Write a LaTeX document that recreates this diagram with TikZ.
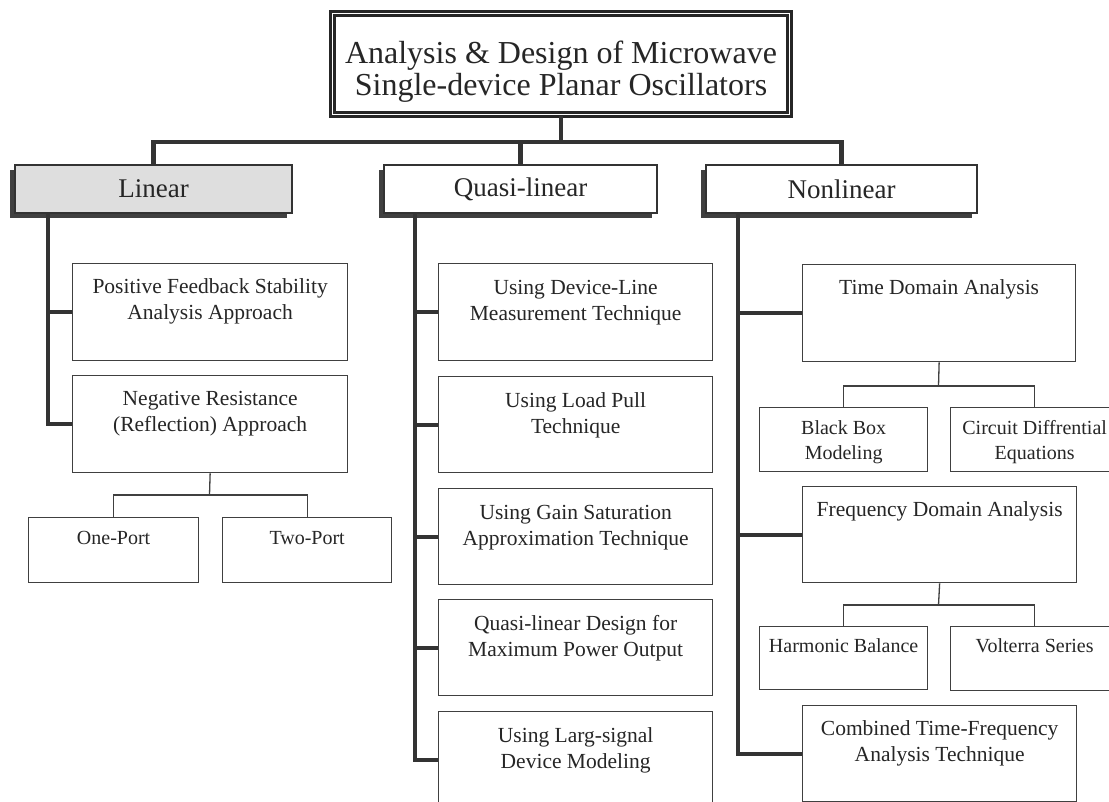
\documentclass[tikz,border=0pt]{standalone}
\usepackage{fontspec}
\setmainfont{Liberation Serif}
\usetikzlibrary{shadows}
\newcommand\bxt[4]{\parbox[c][#1][t]{#2}{\centering\vspace*{#3}\strut #4}}
\tikzset{
  box/.style={draw=black!75, line width=1.3pt, fill=white, inner sep=0pt, text=black!85, anchor=north west},
  midf/.style={font=\fontsize{21.5}{26}\selectfont},
  smallf/.style={font=\fontsize{20}{25}\selectfont},
  catbox/.style={draw=black!80, line width=1.3pt, fill=white, inner sep=0pt, minimum height=48pt,
    text=black!85, font=\fontsize{27}{30}\selectfont,
    drop shadow={shadow xshift=-5pt, shadow yshift=-5pt, fill=black!75, opacity=1}},
  trunk/.style={draw=black!80, line width=4.2pt},
  twig/.style={draw=black!75, line width=1.3pt},
}
\begin{document}
\begin{tikzpicture}[x=1pt, y=-1pt]
\useasboundingbox (0,0) rectangle (1109,802);
\fill[white] (0,0) rectangle (1109,802);

% title
\node[draw=black!85, line width=2.8pt, double=white, double distance=1.2pt, inner sep=0pt,
      text=black!85, font=\fontsize{32}{28.5}\selectfont] (T) at (561,64)
  {\bxt{101pt}{457pt}{27.5pt}{Analysis \& Design of Microwave\\Single-device Planar Oscillators}};

% category boxes
\node[catbox, minimum width=277pt, fill=black!13] (Lin) at (153.5,189) {Linear};
\node[catbox, minimum width=273pt] (Qua) at (520.5,189) {Quasi-linear};
\node[catbox, minimum width=271pt] (Non) at (841.5,189) {Nonlinear};

% linear column
\node[box, midf] (Pos) at (72,263) {\bxt{97pt}{275pt}{12pt}{Positive Feedback Stability\\Analysis Approach}};
\node[box, midf] (Neg) at (72,375) {\bxt{97pt}{275pt}{12pt}{Negative Resistance\\(Reflection) Approach}};
\node[box, smallf] (One) at (28,517) {\bxt{65pt}{170pt}{9.5pt}{One-Port}};
\node[box, smallf] (Two) at (222,517) {\bxt{65pt}{169pt}{9.5pt}{Two-Port}};

% quasi-linear column
\node[box, midf] (Q1) at (438,263) {\bxt{97pt}{274pt}{12.5pt}{Using Device-Line\\Measurement Technique}};
\node[box, midf] (Q2) at (438,376) {\bxt{96pt}{274pt}{12.5pt}{Using Load Pull\\Technique}};
\node[box, midf] (Q3) at (438,488) {\bxt{96pt}{274pt}{12.5pt}{Using Gain Saturation\\Approximation Technique}};
\node[box, midf] (Q4) at (438,599) {\bxt{96pt}{274pt}{12.5pt}{Quasi-linear Design for\\Maximum Power Output}};
\node[box, midf] (Q5) at (438,711) {\bxt{96pt}{274pt}{12.5pt}{Using Larg-signal\\Device Modeling}};

% nonlinear column
\node[box, midf] (Time) at (802,264) {\bxt{97pt}{273pt}{12pt}{Time Domain Analysis}};
\node[box, smallf] (BB) at (759,407) {\bxt{64pt}{168pt}{9.5pt}{Black Box\\Modeling}};
\node[box, smallf] (CDE) at (950,407) {\bxt{64pt}{168pt}{9.5pt}{Circuit Diffrential\\Equations}};
\node[box, midf] (Freq) at (802,486) {\bxt{96pt}{274pt}{12pt}{Frequency Domain Analysis}};
\node[box, smallf] (HB) at (759,626) {\bxt{63pt}{168pt}{8.5pt}{Harmonic Balance}};
\node[box, smallf] (VS) at (950,626) {\bxt{64pt}{168pt}{8.5pt}{Volterra Series}};
\node[box, midf] (Comb) at (802,705) {\bxt{96pt}{274pt}{12pt}{Combined Time-Frequency\\Analysis Technique}};

% top connectors
\coordinate (J) at (561,142);
\draw[trunk] (T.south) -- (J);
\draw[trunk] (Lin.north) |- (J) -| (Non.north);
\draw[trunk] (Qua.north) -- (Qua.north |- J);

% linear trunk
\coordinate (LT) at (48,213);
\draw[trunk] (LT) |- (Neg.west);
\draw[trunk] (LT |- Pos.west) -- (Pos.west);

% quasi-linear trunk
\coordinate (QT) at (415,213);
\draw[trunk] (QT) |- (Q5.west);
\foreach \b in {Q1,Q2,Q3,Q4} \draw[trunk] (QT |- \b.west) -- (\b.west);

% nonlinear trunk
\coordinate (NT) at (738,213);
\draw[trunk] (NT) |- (Comb.west);
\draw[trunk] (NT |- Time.west) -- (Time.west);
\draw[trunk] (NT |- Freq.west) -- (Freq.west);

% sub-branches
\coordinate (NJ) at (209.5,495);
\draw[twig] (Neg.south) -- (NJ);
\draw[twig] (One.north) |- (NJ) -| (Two.north);
\coordinate (TJ) at (938.5,386);
\draw[twig] (Time.south) -- (TJ);
\draw[twig] (BB.north) |- (TJ) -| (CDE.north);
\coordinate (FJ) at (938.5,605);
\draw[twig] (Freq.south) -- (FJ);
\draw[twig] (HB.north) |- (FJ) -| (VS.north);
\end{tikzpicture}
\end{document}
